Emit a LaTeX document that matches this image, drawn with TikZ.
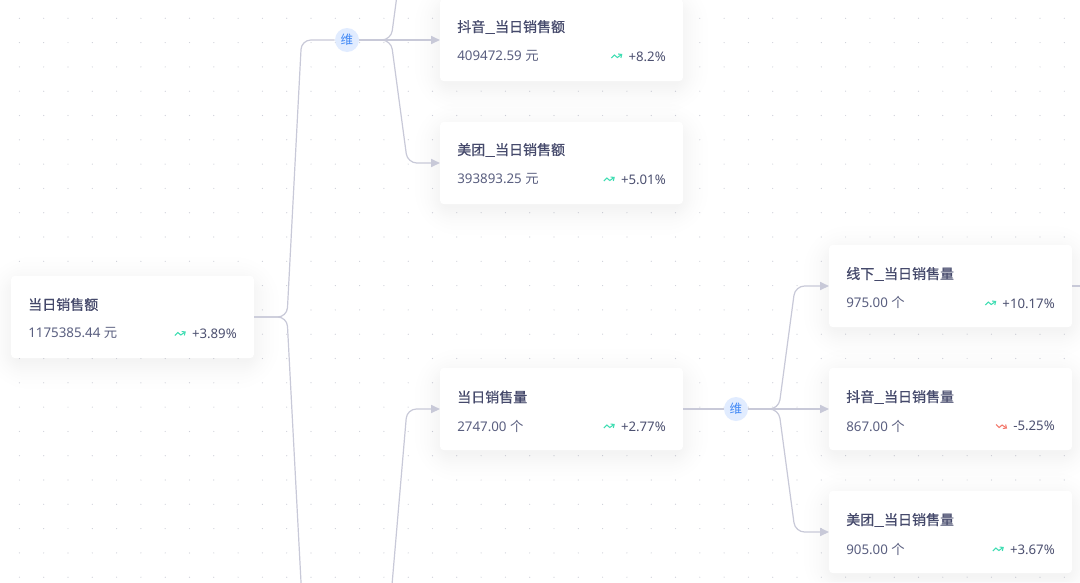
\documentclass[tikz,border=0pt]{standalone}
\usepackage{fontspec}
\usepackage{amsmath}
\usetikzlibrary{arrows.meta}
\setmainfont{Noto Sans}
\newfontfamily\cjkfont{Noto Sans CJK SC}
\newfontfamily\cjktitle[FakeBold=0.5]{Noto Sans CJK SC}

\definecolor{linkgray}{HTML}{C8C9D8}
\definecolor{dotgray}{HTML}{CDCFD8}
\definecolor{titleink}{HTML}{45496B}
\definecolor{valueink}{HTML}{5A5F80}
\definecolor{rateink}{HTML}{4C5070}
\definecolor{upgreen}{HTML}{3EDDB2}
\definecolor{downred}{HTML}{F4796C}
\definecolor{dimfill}{HTML}{E1ECFF}
\definecolor{dimink}{HTML}{3F87F5}
\definecolor{glowink}{HTML}{5A6090}

\tikzset{
 card/.style={fill=white, rounded corners=2.5pt, minimum width=182pt, minimum height=61.5pt, inner sep=0pt},
 cardname/.style={anchor=west, inner sep=0pt, text=titleink, font=\cjktitle\fontsize{10.5pt}{12pt}\selectfont},
 cardvalue/.style={anchor=west, inner sep=0pt, text=valueink, font=\fontsize{10pt}{12pt}\selectfont},
 cardrate/.style={anchor=east, inner sep=0pt, text=rateink, font=\fontsize{9.9pt}{12pt}\selectfont},
 dimnode/.style={circle, fill=dimfill, minimum size=18pt, inner sep=0pt, text=dimink, font=\cjkfont\fontsize{9.4pt}{10pt}\selectfont},
 link/.style={draw=linkgray, line width=.9pt, rounded corners=7pt},
 linkto/.style={link, -{Triangle[length=6.5pt,width=6pt]}},
 pics/trendup/.style={code={
  \draw[upgreen, line width=.8pt, -{Straight Barb[length=2pt,width=3.6pt]}] (-5.5,1.5) -- (-2.5,-1.5) -- (.5,1) -- (5.5,-2.5);
 }},
 pics/trenddown/.style={code={
  \draw[downred, line width=.8pt, -{Straight Barb[length=2pt,width=3.6pt]}] (-5.5,-1.5) -- (-2.5,1.5) -- (.5,-1) -- (5.5,2.5);
 }},
}

\newcommand{\nameline}{\scalebox{1.25}[1]{\_}}

% soft shadow under a card, card corner at the scope origin
\newcommand{\cardglow}{
 \foreach \s in {-2,0,2,4,6,8,10,13,16,20,25}
  \fill[glowink, fill opacity=.005, rounded corners={(\s+8)*1pt}] (-\s,-\s+6) rectangle (243+\s,82+\s+6);
}

\begin{document}
\begin{tikzpicture}[x=.75pt, y=-.75pt]
\useasboundingbox (0,0) rectangle (1080,582);
\fill[white] (0,0) rectangle (1080,582);

% dot grid
\foreach \i in {0,...,43}
 \foreach \j in {0,...,23}
  \fill[dotgray] (19.4+24.3*\i,18.3+24.3*\j) circle[radius=.6];

\begin{scope}[shift={(11,276)}]
 \cardglow
 \node[card] (root) at (121.5,41) {};
 \node[cardname] (rootname) at (17,28.5) {当日销售额};
 \node[cardvalue] (rootvalue) at (17,57) {1175385.44 {\cjkfont 元}};
 \node[cardrate] (rootrate) at (226,58) {+3.89\%};
 \pic at ([xshift=-8.6pt]rootrate.west) {trendup};
\end{scope}

\begin{scope}[shift={(440,-1)}]
 \cardglow
 \node[card] (dya) at (121.5,41) {};
 \node[cardname] (dyaname) at (17,28) {抖音\nameline 当日销售额};
 \node[cardvalue] (dyavalue) at (17,57) {409472.59 {\cjkfont 元}};
 \node[cardrate] (dyarate) at (226,57.5) {+8.2\%};
 \pic at ([xshift=-8.6pt]dyarate.west) {trendup};
\end{scope}

\begin{scope}[shift={(440,122)}]
 \cardglow
 \node[card] (mta) at (121.5,41) {};
 \node[cardname] (mtaname) at (17,28) {美团\nameline 当日销售额};
 \node[cardvalue] (mtavalue) at (17,57) {393893.25 {\cjkfont 元}};
 \node[cardrate] (mtarate) at (226,57.5) {+5.01\%};
 \pic at ([xshift=-8.6pt]mtarate.west) {trendup};
\end{scope}

\begin{scope}[shift={(440,368)}]
 \cardglow
 \node[card] (qty) at (121.5,41) {};
 \node[cardname] (qtyname) at (17,29) {当日销售量};
 \node[cardvalue] (qtyvalue) at (17,58) {2747.00 {\cjkfont 个}};
 \node[cardrate] (qtyrate) at (226,58.5) {+2.77\%};
 \pic at ([xshift=-8.6pt]qtyrate.west) {trendup};
\end{scope}

\begin{scope}[shift={(829,245)}]
 \cardglow
 \node[card] (xxq) at (121.5,41) {};
 \node[cardname] (xxqname) at (17,29) {线下\nameline 当日销售量};
 \node[cardvalue] (xxqvalue) at (17,57) {975.00 {\cjkfont 个}};
 \node[cardrate] (xxqrate) at (226,58.5) {+10.17\%};
 \pic at ([xshift=-8.6pt]xxqrate.west) {trendup};
\end{scope}

\begin{scope}[shift={(829,368)}]
 \cardglow
 \node[card] (dyq) at (121.5,41) {};
 \node[cardname] (dyqname) at (17,29) {抖音\nameline 当日销售量};
 \node[cardvalue] (dyqvalue) at (17,58) {867.00 {\cjkfont 个}};
 \node[cardrate] (dyqrate) at (226,58) {-5.25\%};
 \pic at ([xshift=-8.6pt]dyqrate.west) {trenddown};
\end{scope}

\begin{scope}[shift={(829,491)}]
 \cardglow
 \node[card] (mtq) at (121.5,41) {};
 \node[cardname] (mtqname) at (17,29) {美团\nameline 当日销售量};
 \node[cardvalue] (mtqvalue) at (17,58) {905.00 {\cjkfont 个}};
 \node[cardrate] (mtqrate) at (226,58.5) {+3.67\%};
 \pic at ([xshift=-8.6pt]mtqrate.west) {trendup};
\end{scope}

\node[dimnode] (dima) at (347,40) {维};
\node[dimnode] (dimq) at (736,409) {维};

% ends that run off the picture
\coordinate (offtop) at (407.5,-83);
\coordinate (offdown) at (303,620);
\coordinate (offup) at (389,620);
\coordinate (offright) at (1090,286);

\draw[link] (root.east) -- (287,317) -- (301.5,40) -- (dima.west);
\draw[link] (root.east) -- (287,317) -- (offdown);
\draw[link] (dima.east) -- (391,40) -- (offtop);
\draw[linkto] (dima.east) -- (dya.west);
\draw[linkto] (dima.east) -- (391,40) -- (407.5,163) -- (mta.west);
\draw[linkto] (offup) -- (407,409) -- (qty.west);
\draw[link] (qty.east) -- (dimq.west);
\draw[linkto] (dimq.east) -- (778.7,409) -- (795.2,286) -- (xxq.west);
\draw[linkto] (dimq.east) -- (dyq.west);
\draw[linkto] (dimq.east) -- (778.7,409) -- (795.2,532) -- (mtq.west);
\draw[link] (xxq.east) -- (offright);

\end{tikzpicture}
\end{document}
